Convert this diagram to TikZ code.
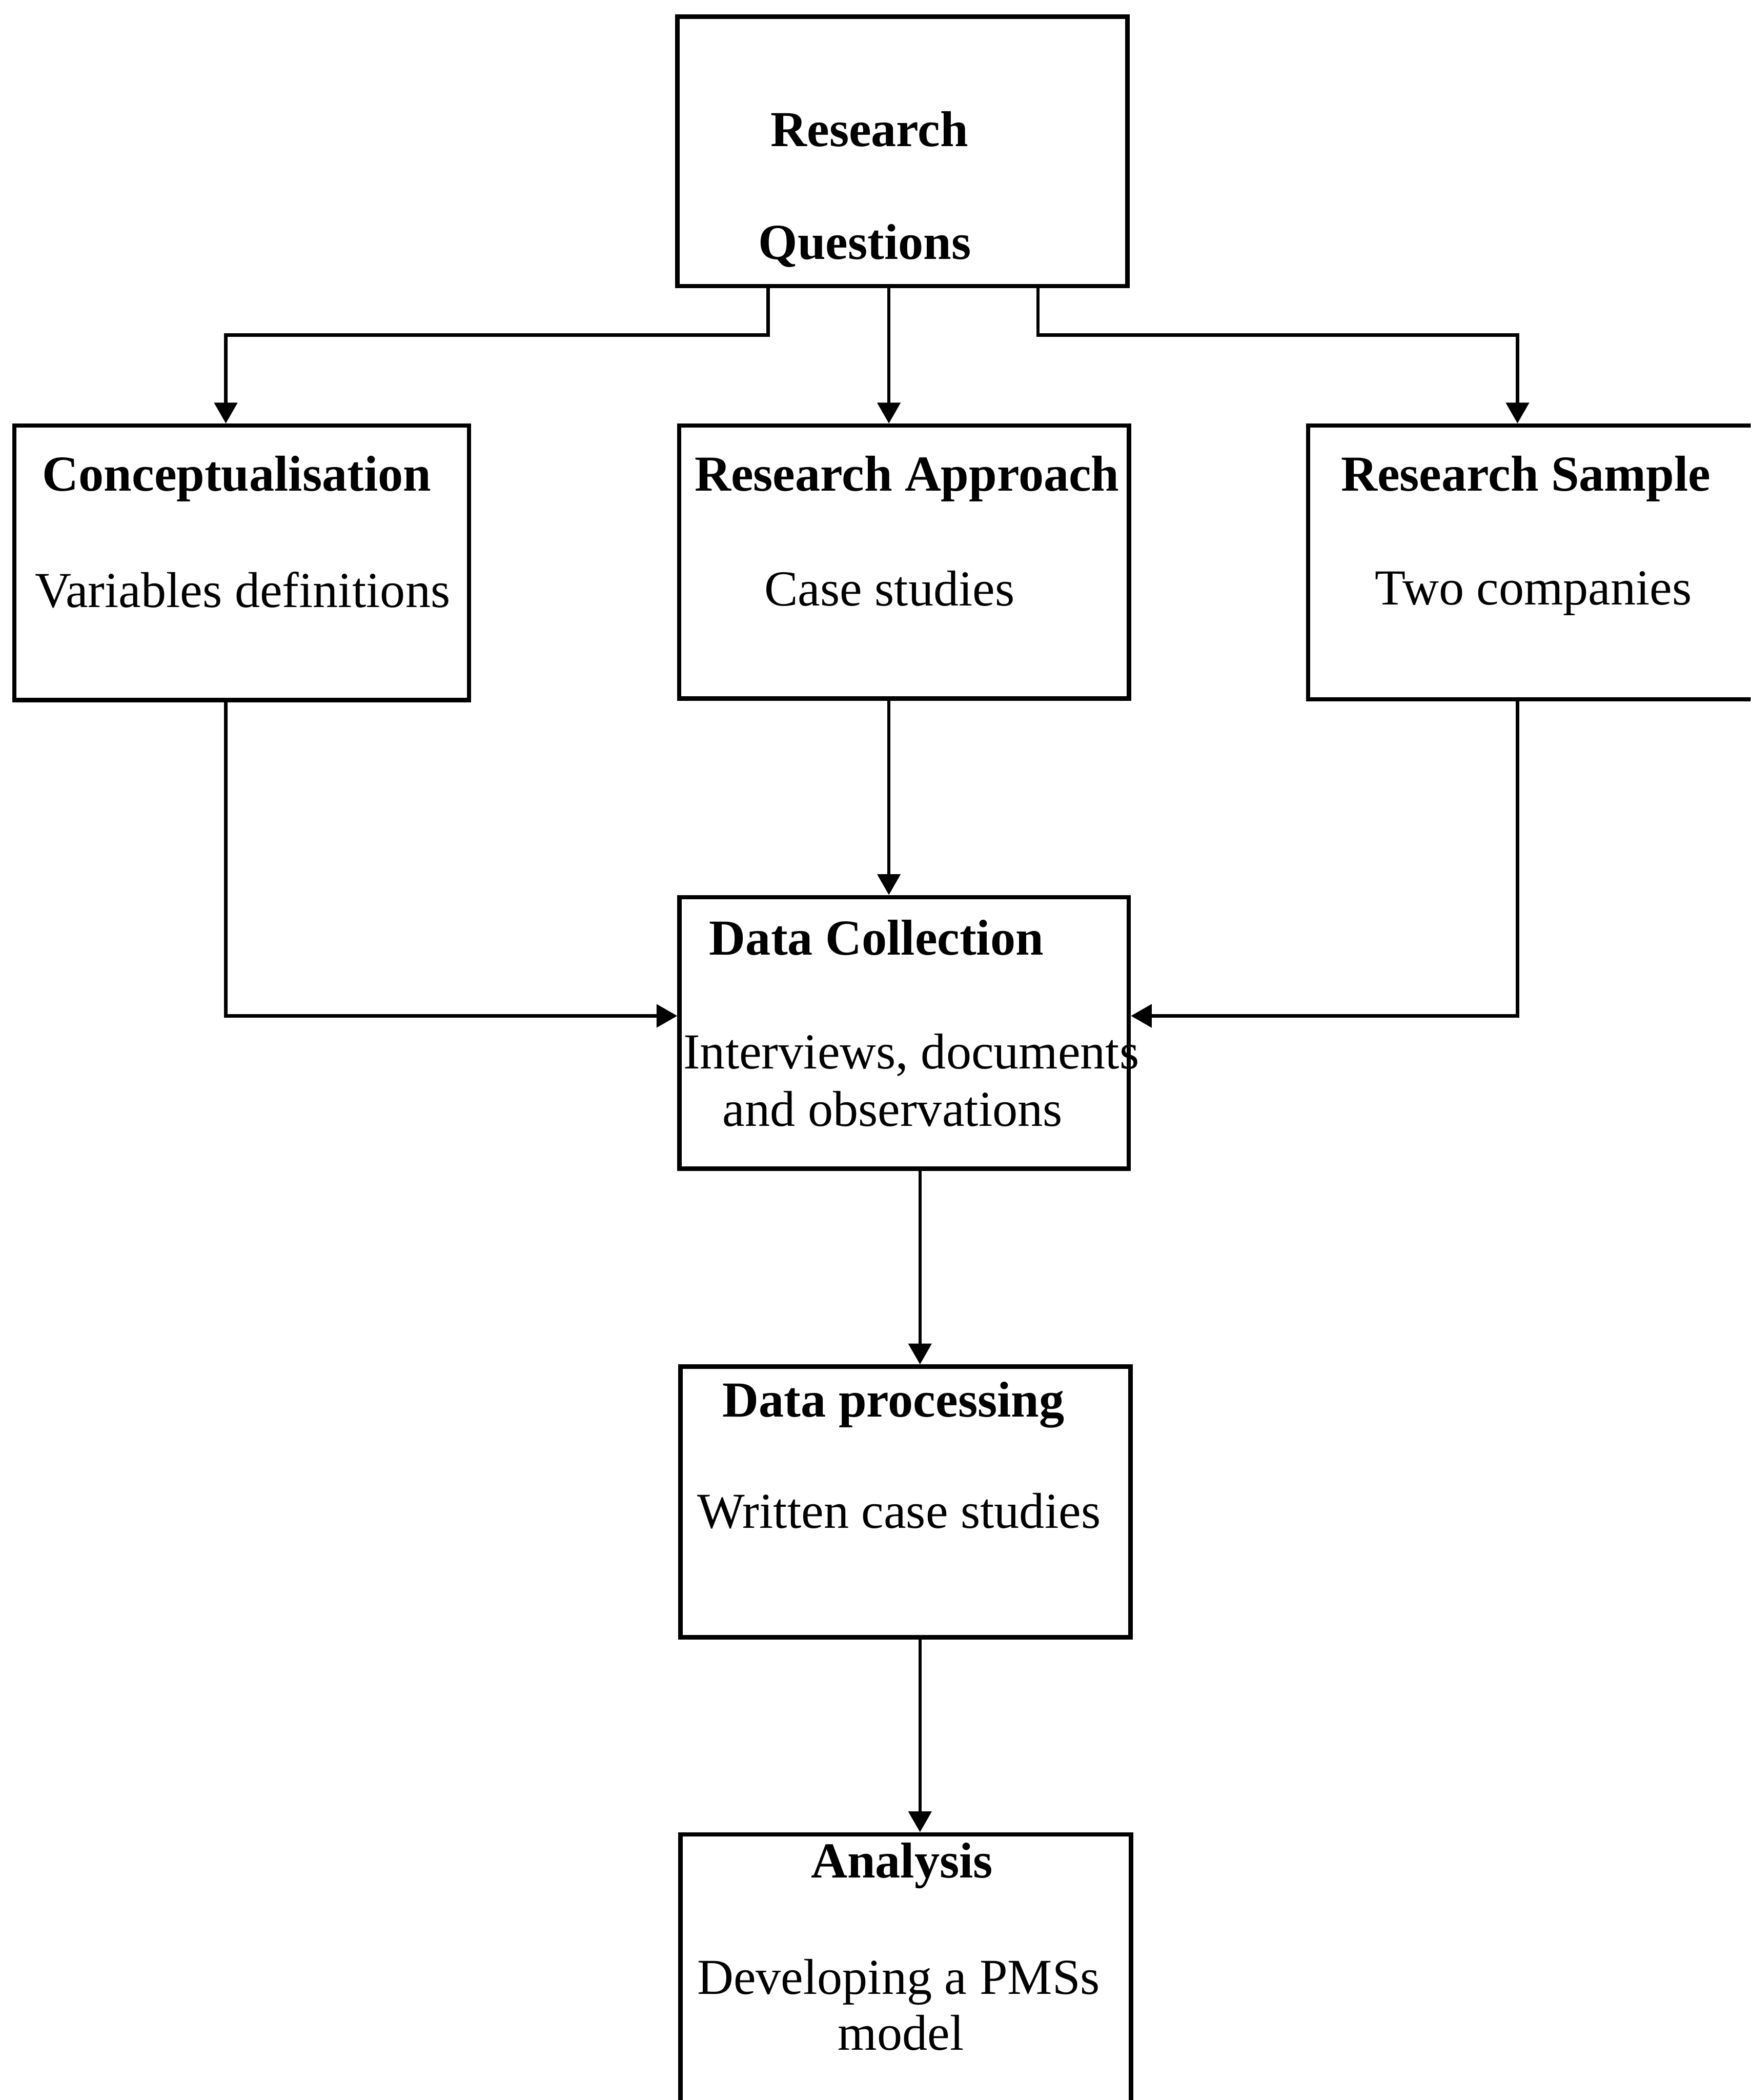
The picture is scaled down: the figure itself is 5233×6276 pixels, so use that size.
\documentclass[tikz,border=0pt]{standalone}
\usepackage{fontspec}
\setmainfont{Liberation Serif}
\usetikzlibrary{arrows.meta,fit}

\tikzset{
  box/.style={draw=black, line width=1.3pt, rectangle, inner sep=0pt, fill=none},
  conn/.style={draw=black, line width=1.0pt},
  arr/.style={conn, -{Triangle[length=6.2pt,width=6.8pt]}},
  head/.style={anchor=base, inner sep=0pt, font=\fontsize{15.05}{17}\selectfont\bfseries},
  body/.style={anchor=base, inner sep=0pt, font=\fontsize{15.05}{17}\selectfont},
}

\begin{document}
\begin{tikzpicture}[x=0.1pt, y=-0.1pt]
  \useasboundingbox (0,0) rectangle (5233,6276);
  \clip (0,0) rectangle (5233,6276);
  \fill[white] (0,0) rectangle (5233,6276);

  % boxes
  \node[box, fit={(2025,50) (3370,855)}] (rq) {};
  \node[box, fit={(43,1272) (1402,2092)}] (conc) {};
  \node[box, fit={(2030,1272) (3375,2088)}] (appr) {};
  \node[box, fit={(3910,1272) (5260,2090)}] (samp) {};
  \node[box, fit={(2031,2681) (3374,3493)}] (dc) {};
  \node[box, fit={(2034,4084) (3379,4893)}] (dp) {};
  \node[box, fit={(2034,5482) (3381,6400)}] (an) {};

  % texts
  \node[head] (rqA) at (2599,437) {Research};
  \node[head] (rqB) at (2585,775) {Questions};

  \node[head] (concA) at (708,1467) {Conceptualisation};
  \node[body] (concB) at (725,1815) {Variables definitions};

  \node[head] (apprA) at (2711,1467) {Research Approach};
  \node[body] (apprB) at (2659,1810) {Case studies};

  \node[head] (sampA) at (4561,1467) {Research Sample};
  \node[body] (sampB) at (4584,1808) {Two companies};

  \node[head] (dcA) at (2620,2853) {Data Collection};
  \node[body] (dcB) at (2724,3194) {Interviews, documents};
  \node[body] (dcC) at (2668,3366) {and observations};

  \node[head] (dpA) at (2671,4234) {Data processing};
  \node[body] (dpB) at (2687,4567) {Written case studies};

  \node[head] (anA) at (2696,5612) {Analysis};
  \node[body] (anB) at (2686,5959) {Developing a PMSs};
  \node[body] (anC) at (2693,6126) {model};

  % connector guide positions
  \coordinate (xLQ) at (2296,0);
  \coordinate (xMQ) at (2657,0);
  \coordinate (xRQ) at (3103,0);
  \coordinate (xL)  at (675,0);
  \coordinate (xR)  at (4536,0);
  \coordinate (xD)  at (2750,0);
  \coordinate (yQ)  at (0,1001);
  \coordinate (yDC) at (0,3036);

  % connectors
  \draw[arr] (rq.south -| xLQ) |- (yQ -| xL) -- (conc.north -| xL);
  \draw[arr] (rq.south -| xMQ) -- (appr.north -| xMQ);
  \draw[arr] (rq.south -| xRQ) |- (yQ -| xR) -- (samp.north -| xR);

  \draw[arr] (conc.south -| xL) |- (dc.west |- yDC);
  \draw[arr] (appr.south -| xMQ) -- (dc.north -| xMQ);
  \draw[arr] (samp.south -| xR) |- (dc.east |- yDC);

  \draw[arr] (dc.south -| xD) -- (dp.north -| xD);
  \draw[arr] (dp.south -| xD) -- (an.north -| xD);
\end{tikzpicture}
\end{document}
